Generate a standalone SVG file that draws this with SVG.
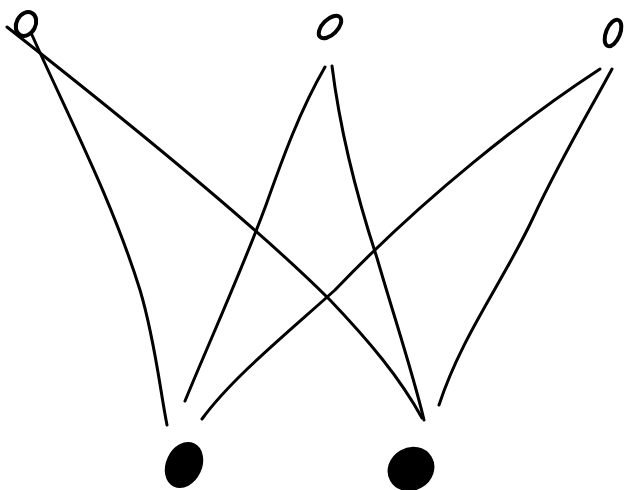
<svg xmlns="http://www.w3.org/2000/svg" width="628" height="490" viewBox="0 0 628 490">
<style>
.edge{fill:none;stroke:#000;stroke-width:3;stroke-linecap:round;stroke-linejoin:round}
.open{fill:none;stroke:#000;stroke-width:4;stroke-linecap:round}
.solid{fill:#000;stroke:#000;stroke-width:2}
</style>
<rect width="628" height="490" fill="#fff"/>
<g id="connectors">
<path class="edge" d="M7,27 C 100,100 250,220 330,300 C 370,342 400,378 422,418"/>
<path class="edge" d="M32,35 C 70,120 112,200 140,290 C 155,340 160,390 167,425"/>
<path class="edge" d="M325,67 C 300,110 282,160 266,205 C 240,275 210,340 185,401"/>
<path class="edge" d="M332,66 C 340,130 358,200 377,258 C 395,320 412,370 424,420"/>
<path class="edge" d="M600,69 C 525,118 425,196 335,290 C 285,335 232,378 202,419"/>
<path class="edge" d="M612,69 C 590,110 560,160 533,218 C 503,282 462,335 439,405"/>
</g>
<g id="top-left">
<ellipse class="open" cx="26" cy="24" rx="9.5" ry="12.5" transform="rotate(28 26 24)"/>
</g>
<g id="top-middle">
<ellipse class="open" cx="330" cy="27" rx="7.5" ry="14" transform="rotate(45 330 27)"/>
</g>
<g id="top-right">
<ellipse class="open" cx="613" cy="33" rx="7" ry="14" transform="rotate(22 613 33)"/>
</g>
<g id="bottom-left">
<ellipse class="solid" cx="184" cy="465" rx="17" ry="23" transform="rotate(25 184 465)"/>
</g>
<g id="bottom-right">
<ellipse class="solid" cx="411" cy="469" rx="23" ry="20.5" transform="rotate(-30 411 469)"/>
</g>
</svg>
